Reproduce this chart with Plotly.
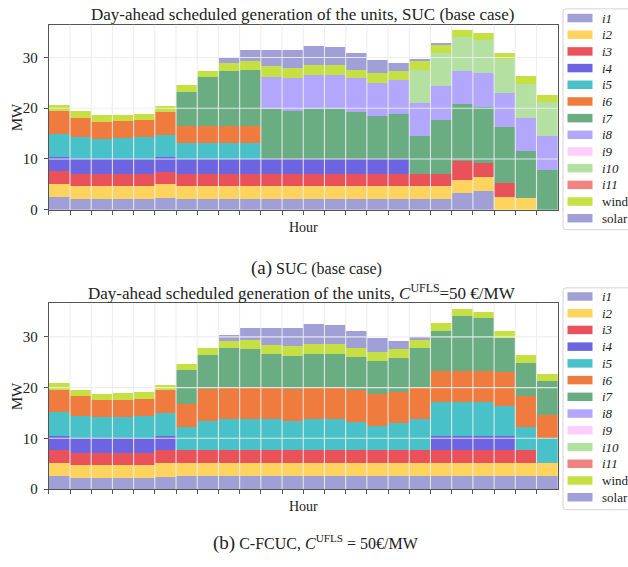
import plotly.graph_objects as go

W, H = 628, 567

hours = list(range(24))
unit_names = ["i1", "i2", "i3", "i4", "i5", "i6", "i7", "i8", "i9", "i10", "i11", "wind", "solar"]
unit_colors = ["#a0a0d6", "#ffd45e", "#e9525a", "#6c64e0", "#48c2c8", "#ef7c3e",
               "#6bad83", "#b3a6fd", "#fdcdfd", "#b4e0a2", "#f18282", "#c6df43", "#a0a0d6"]

# ---- SUC (base case), MW per hour ----
suc_i1 = [2.66, 2.27, 2.27, 2.27, 2.27, 2.46, 2.27, 2.27, 2.27, 2.27, 2.27, 2.27,
          2.27, 2.27, 2.27, 2.27, 2.27, 2.27, 2.27, 3.43, 3.82, 0, 0, 0]
suc_i2 = [2.52, 2.46, 2.46, 2.46, 2.46, 2.59, 2.46, 2.46, 2.46, 2.46, 2.46, 2.46,
          2.46, 2.46, 2.46, 2.46, 2.46, 2.46, 2.46, 2.47, 2.60, 2.60, 2.33, 0]
suc_i3 = [2.47, 2.40, 2.40, 2.40, 2.40, 2.47, 2.40, 2.40, 2.40, 2.40, 2.40, 2.40,
          2.40, 2.40, 2.40, 2.40, 2.40, 2.40, 2.40, 3.82, 2.78, 2.65, 0, 0]
suc_i4 = [2.85, 2.87, 2.87, 2.87, 2.87, 2.85, 2.87, 2.87, 2.87, 2.87, 2.87, 2.87,
          2.87, 2.87, 2.87, 2.87, 2.87, 0, 0, 0, 0, 0, 0, 0]
suc_i5 = [4.54, 4.30, 4.06, 4.19, 4.30, 4.47, 3.16, 3.16, 3.16, 3.16, 0, 0,
          0, 0, 0, 0, 0, 0, 0, 0, 0, 0, 0, 0]
suc_i6 = [4.40, 3.90, 3.31, 3.31, 3.40, 4.46, 3.37, 3.37, 3.37, 3.37, 0, 0,
          0, 0, 0, 0, 0, 0, 0, 0, 0, 0, 0, 0]
suc_i7 = [0, 0, 0, 0, 0, 0, 6.80, 9.77, 10.87, 11.07, 9.83, 9.57,
          9.96, 9.96, 9.30, 8.50, 9.00, 7.47, 10.69, 11.18, 11.20, 11.15, 9.34, 7.97]
suc_i8 = [0, 0, 0, 0, 0, 0, 0, 0, 0, 0, 6.47, 6.53,
          6.64, 6.64, 6.70, 6.60, 6.60, 6.50, 6.55, 6.60, 6.70, 6.67, 6.53, 6.61]
suc_i9 = [0] * 24
suc_i10 = [0, 0, 0, 0, 0, 0, 0, 0, 0, 0, 0, 0,
           0, 0, 0, 0, 0, 6.60, 6.67, 6.60, 6.50, 6.68, 6.60, 6.68]
suc_i11 = [0] * 24
suc_wind = [1.30, 1.30, 1.29, 1.30, 1.30, 1.20, 1.27, 1.20, 1.50, 1.80, 2.10, 1.96,
            1.90, 1.90, 1.70, 1.86, 1.80, 1.66, 1.50, 1.40, 1.20, 1.30, 1.60, 1.49]
suc_solar = [0, 0, 0, 0, 0, 0, 0, 0, 1.00, 2.10, 3.20, 3.50,
             3.90, 3.70, 3.30, 2.54, 1.60, 0.44, 0.27, 0, 0, 0, 0, 0]

# ---- C-FCUC, C_UFLS = 50 EUR/MW, MW per hour ----
fc_i1 = [2.66, 2.27, 2.27, 2.27, 2.27, 2.46, 2.66, 2.66, 2.66, 2.66, 2.66, 2.66,
         2.66, 2.66, 2.66, 2.66, 2.66, 2.66, 2.66, 2.66, 2.66, 2.66, 2.66, 2.66]
fc_i2 = [2.52, 2.46, 2.46, 2.46, 2.46, 2.59, 2.52, 2.52, 2.52, 2.52, 2.52, 2.52,
         2.52, 2.52, 2.52, 2.52, 2.52, 2.52, 2.52, 2.52, 2.52, 2.52, 2.52, 2.52]
fc_i3 = [2.52, 2.40, 2.40, 2.40, 2.40, 2.60, 2.60, 2.60, 2.60, 2.60, 2.60, 2.60,
         2.60, 2.60, 2.60, 2.60, 2.60, 2.60, 2.60, 2.60, 2.60, 2.60, 2.60, 0]
fc_i4 = [2.86, 2.87, 2.87, 2.87, 2.87, 2.75, 0, 0, 0, 0, 0, 0,
         0, 0, 0, 0, 0, 0, 2.78, 2.78, 2.78, 2.78, 0, 0]
fc_i5 = [4.54, 4.45, 4.13, 4.13, 4.45, 4.57, 4.52, 5.72, 6.12, 6.12, 6.12, 5.57,
         6.12, 6.12, 5.52, 4.62, 5.22, 6.12, 6.68, 6.68, 6.68, 5.84, 4.42, 4.92]
fc_i6 = [4.40, 3.85, 3.37, 3.43, 3.25, 4.47, 4.55, 6.27, 6.06, 6.06, 6.06, 6.29,
         6.06, 6.06, 6.20, 6.40, 6.20, 6.06, 6.06, 6.06, 5.96, 6.67, 6.14, 4.55]
fc_i7 = [0, 0, 0, 0, 0, 0, 6.61, 6.63, 7.94, 7.74, 6.64, 6.66,
         6.64, 6.64, 6.55, 6.50, 6.60, 7.84, 7.90, 10.90, 10.50, 6.73, 6.61, 6.61]
fc_i8 = [0] * 24
fc_i9 = [0] * 24
fc_i10 = [0] * 24
fc_i11 = [0] * 24
fc_wind = [1.40, 1.30, 1.30, 1.34, 1.40, 1.16, 1.24, 1.50, 1.40, 1.80, 1.90, 2.00,
           2.00, 2.00, 1.85, 1.70, 1.80, 1.60, 1.60, 1.30, 1.30, 1.30, 1.45, 1.49]
fc_solar = [0, 0, 0, 0, 0, 0, 0, 0, 1.00, 2.20, 3.30, 3.50,
            3.90, 3.70, 3.20, 2.70, 1.70, 0.50, 0, 0, 0, 0, 0, 0]

suc_series = [suc_i1, suc_i2, suc_i3, suc_i4, suc_i5, suc_i6, suc_i7, suc_i8,
              suc_i9, suc_i10, suc_i11, suc_wind, suc_solar]
fc_series = [fc_i1, fc_i2, fc_i3, fc_i4, fc_i5, fc_i6, fc_i7, fc_i8,
             fc_i9, fc_i10, fc_i11, fc_wind, fc_solar]

FONT = "Liberation Serif"
AX_COL = "#555555"
GRID_COL = "rgba(236,236,236,0.9)"


def X(p):
    return p / W


def Y(p):
    return 1 - p / H


fig = go.Figure()

for series, xa, ya in [(suc_series, "x", "y"), (fc_series, "x2", "y2")]:
    for name, color, vals in zip(unit_names, unit_colors, series):
        fig.add_trace(go.Bar(
            x=hours, y=vals, name=name, xaxis=xa, yaxis=ya,
            marker=dict(color=color, line=dict(width=0)),
            showlegend=False,
        ))

edge_ticks = [h - 0.5 for h in hours]
xdom = [X(48.8), X(557.7)]


def xaxis_cfg():
    return dict(domain=xdom, range=[-0.5, 23.5], tickvals=edge_ticks,
                showticklabels=False, ticks="outside", ticklen=4,
                tickcolor=AX_COL, showgrid=False, zeroline=False,
                showline=True, linecolor=AX_COL, linewidth=1.2, mirror=True)


def yaxis_cfg(dom, top, anchor):
    return dict(domain=dom, range=[0, top], tickvals=[0, 10, 20, 30],
                ticks="outside", ticklen=4, tickcolor=AX_COL,
                tickfont=dict(family=FONT, size=15, color="#222"),
                showgrid=False, zeroline=False, showline=True,
                linecolor=AX_COL, linewidth=1.2, mirror=True,
                anchor=anchor, ticklabelstandoff=3)


fig.update_layout(
    width=W, height=H, margin=dict(l=0, r=0, t=0, b=0),
    paper_bgcolor="white", plot_bgcolor="white",
    barmode="stack", bargap=0,
    font=dict(family=FONT, color="#222"),
    xaxis=dict(**xaxis_cfg(), anchor="y"),
    yaxis=yaxis_cfg([Y(212.7), Y(25)], 36.47, "x"),
    xaxis2=dict(**xaxis_cfg(), anchor="y2"),
    yaxis2=yaxis_cfg([Y(496), Y(307.3)], 36.7, "x2"),
)

shapes = []
annotations = []

# grid drawn over the bars
for xa, ya in [("x", "y"), ("x2", "y2")]:
    for e in edge_ticks[1:]:
        shapes.append(dict(type="line", xref=xa, yref=ya + " domain", x0=e, x1=e,
                           y0=0, y1=1, line=dict(color=GRID_COL, width=1.1), layer="above"))
    for g in [10, 20, 30]:
        shapes.append(dict(type="line", xref=xa + " domain", yref=ya, x0=0, x1=1,
                           y0=g, y1=g, line=dict(color=GRID_COL, width=1.1), layer="above"))


def rounded_box(x0, y0, x1, y1, r):
    # pixel box with rounded corners, expressed in paper coordinates
    pts = (f"M {X(x0 + r)},{Y(y0)} L {X(x1 - r)},{Y(y0)} Q {X(x1)},{Y(y0)} {X(x1)},{Y(y0 + r)} "
           f"L {X(x1)},{Y(y1 - r)} Q {X(x1)},{Y(y1)} {X(x1 - r)},{Y(y1)} "
           f"L {X(x0 + r)},{Y(y1)} Q {X(x0)},{Y(y1)} {X(x0)},{Y(y1 - r)} "
           f"L {X(x0)},{Y(y0 + r)} Q {X(x0)},{Y(y0)} {X(x0 + r)},{Y(y0)} Z")
    return dict(type="path", xref="paper", yref="paper", path=pts,
                fillcolor="rgba(255,255,255,0.9)", line=dict(color="#d4d4d4", width=1),
                layer="above")


def legend_label(name):
    return f"<i>{name}</i>" if name.startswith("i") else name


for box_top, box_bot, first, step in [(9, 233, 18.3, 16.92), (292, 517, 300.7, 16.97)]:
    shapes.append(rounded_box(563, box_top, 645, box_bot, 3))
    for k, (name, color) in enumerate(zip(unit_names, unit_colors)):
        yc = first + k * step
        shapes.append(dict(type="rect", xref="paper", yref="paper",
                           x0=X(567.5), x1=X(592.5), y0=Y(yc + 4.3), y1=Y(yc - 4.3),
                           fillcolor=color, line=dict(width=0), layer="above"))
        annotations.append(dict(text=legend_label(name), xref="paper", yref="paper",
                                x=X(600), y=Y(yc), xanchor="left", yanchor="middle",
                                showarrow=False, font=dict(family=FONT, size=13, color="#222")))

# titles, axis labels and captions
annotations += [
    dict(text="Day-ahead scheduled generation of the units, SUC (base case)",
         x=X(302), y=Y(15), font=dict(size=17)),
    dict(text="Day-ahead scheduled generation of the units, <i>C</i><sup>UFLS</sup>=50 €/MW",
         x=X(302), y=Y(296), font=dict(size=17)),
    dict(text="MW", x=X(17), y=Y(119), textangle=-90, font=dict(size=15)),
    dict(text="MW", x=X(17), y=Y(402), textangle=-90, font=dict(size=15)),
    dict(text="Hour", x=X(303), y=Y(231), font=dict(size=14)),
    dict(text="Hour", x=X(303), y=Y(514), font=dict(size=14)),
    dict(text="<span style='font-size:19px'>(a)</span> SUC (base case)",
         x=X(316), y=Y(272), font=dict(size=16)),
    dict(text="<span style='font-size:19px'>(b)</span> C-FCUC, <i>C</i><sup>UFLS</sup> = 50€/MW",
         x=X(316), y=Y(551), font=dict(size=16)),
]
for a in annotations[-8:]:
    a.update(xref="paper", yref="paper", xanchor="center", yanchor="middle", showarrow=False)
    a["font"] = dict(family=FONT, color="#222", **a["font"])

fig.update_layout(shapes=shapes, annotations=annotations)
fig.write_html("out.html")
